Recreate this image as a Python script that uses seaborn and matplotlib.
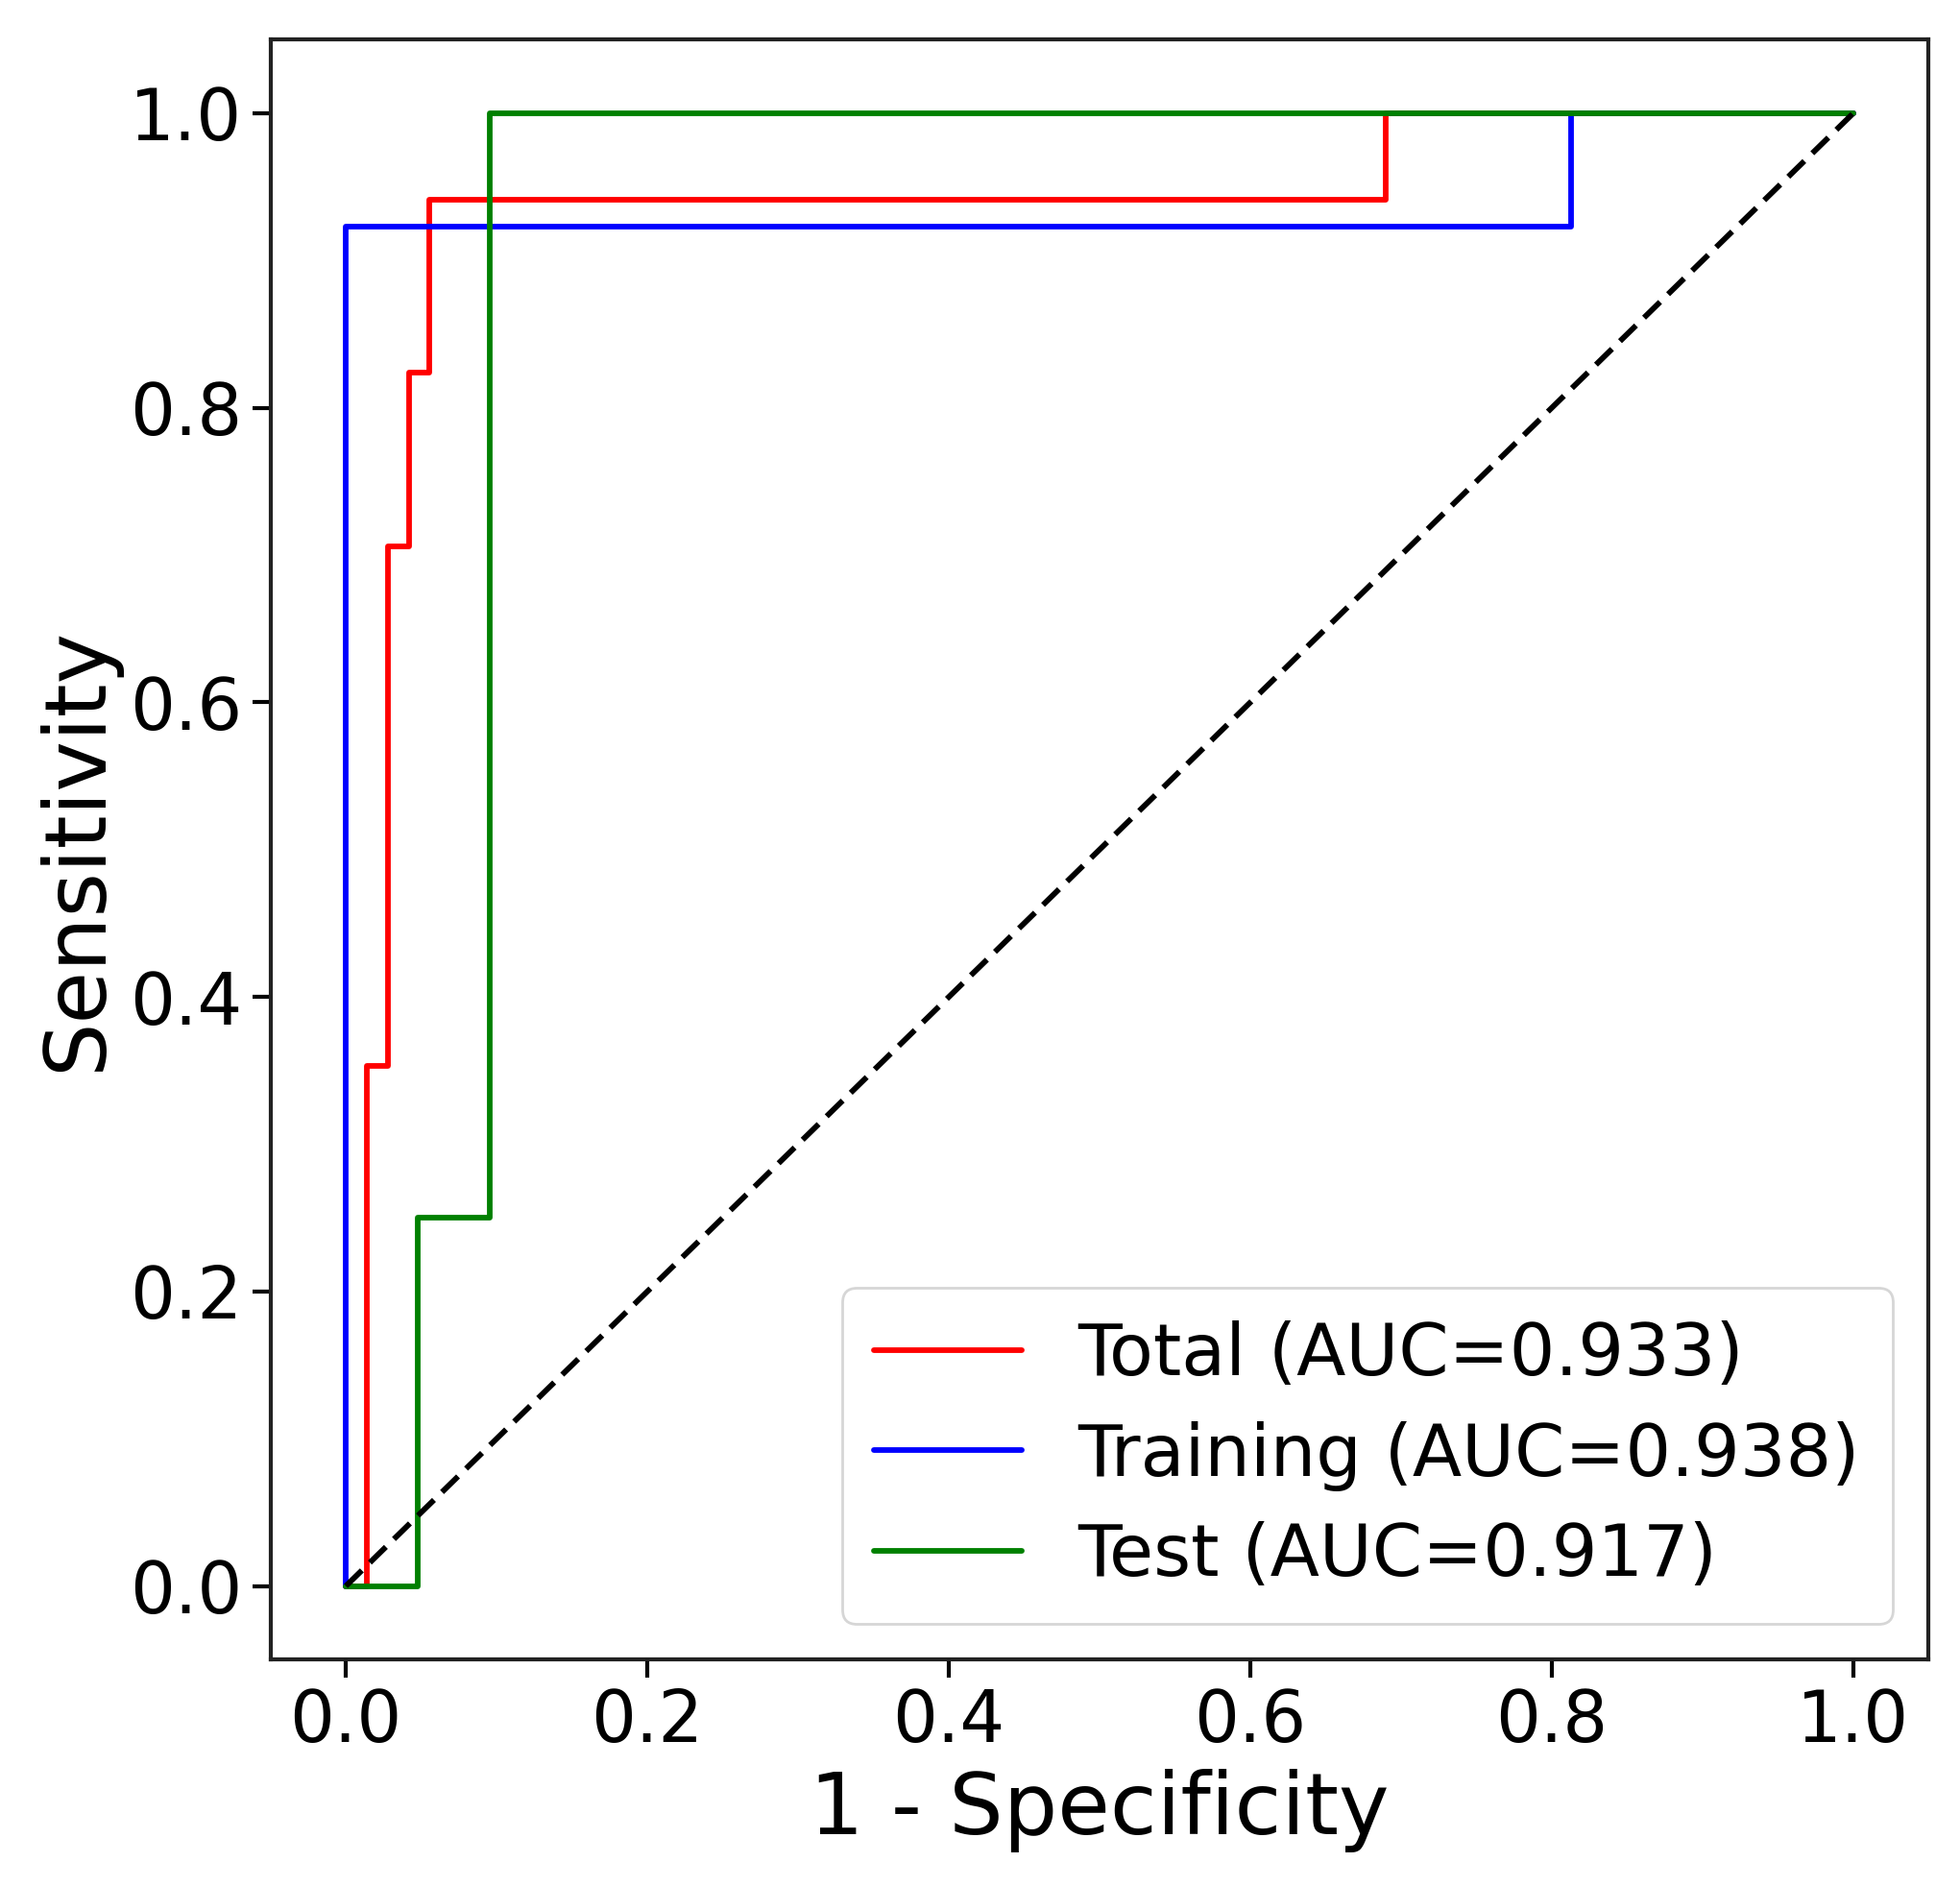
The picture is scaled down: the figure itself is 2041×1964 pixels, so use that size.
import numpy as np
import pandas as pd
import matplotlib
matplotlib.use("Agg")
import matplotlib.pyplot as plt
import seaborn as sns

# ROC points
total_fpr = [0.0, 0.0139, 0.0139, 0.0278, 0.0278, 0.0417, 0.0417, 0.0556, 0.0556, 0.690, 0.690, 1.0]
total_tpr = [0.0, 0.0, 0.353, 0.353, 0.706, 0.706, 0.824, 0.824, 0.941, 0.941, 1.0, 1.0]
train_fpr = [0.0, 0.0, 0.8125, 0.8125, 1.0]
train_tpr = [0.0, 0.923, 0.923, 1.0, 1.0]
test_fpr = [0.0, 0.0476, 0.0476, 0.0952, 0.0952, 1.0]
test_tpr = [0.0, 0.0, 0.25, 0.25, 1.0, 1.0]
labels = ["Total (AUC=0.933)", "Training (AUC=0.938)", "Test (AUC=0.917)"]
colors = ["red", "blue", "green"]
diag = [0.0, 1.0]

sns.set_theme(style="ticks")
plt.rcParams['font.family'] = ['DejaVu Sans']
plt.rcParams['text.color'] = 'black'
plt.rcParams['axes.labelcolor'] = 'black'

fig, ax = plt.subplots(figsize=(10.205, 9.82), dpi=200)

curves = [(total_fpr, total_tpr), (train_fpr, train_tpr), (test_fpr, test_tpr)]
for (fx, fy), lab, col in zip(curves, labels, colors):
    df = pd.DataFrame({"fpr": fx, "tpr": fy})
    sns.lineplot(data=df, x="fpr", y="tpr", sort=False, estimator=None,
                 color=col, lw=2.1, label=lab, ax=ax)

sns.lineplot(x=diag, y=diag, color="black", lw=2.1, linestyle="--", ax=ax)
ax.lines[-1].set_dashes([4, 2])

ax.set_xlim(-0.05, 1.05)
ax.set_ylim(-0.05, 1.05)
ax.set_xticks([0, 0.2, 0.4, 0.6, 0.8, 1.0])
ax.set_yticks([0, 0.2, 0.4, 0.6, 0.8, 1.0])
ax.set_xlabel("1 - Specificity", fontsize=32, color="black")
ax.set_ylabel("Sensitivity", fontsize=32, color="black")
ax.tick_params(labelsize=26.5, length=7, width=1.5, colors="black", labelcolor="black")
for s in ax.spines.values():
    s.set_visible(True)
    s.set_linewidth(1.5)
    s.set_color("#222222")

leg = ax.legend(loc="lower right", fontsize=27, frameon=True, handlelength=2.05,
                handletextpad=0.78, borderpad=0.45, labelspacing=0.42)
for t in leg.get_texts():
    t.set_color("black")

plt.subplots_adjust(left=0.138, right=0.984, top=0.979, bottom=0.12)
fig.savefig("out.png", dpi=200)
